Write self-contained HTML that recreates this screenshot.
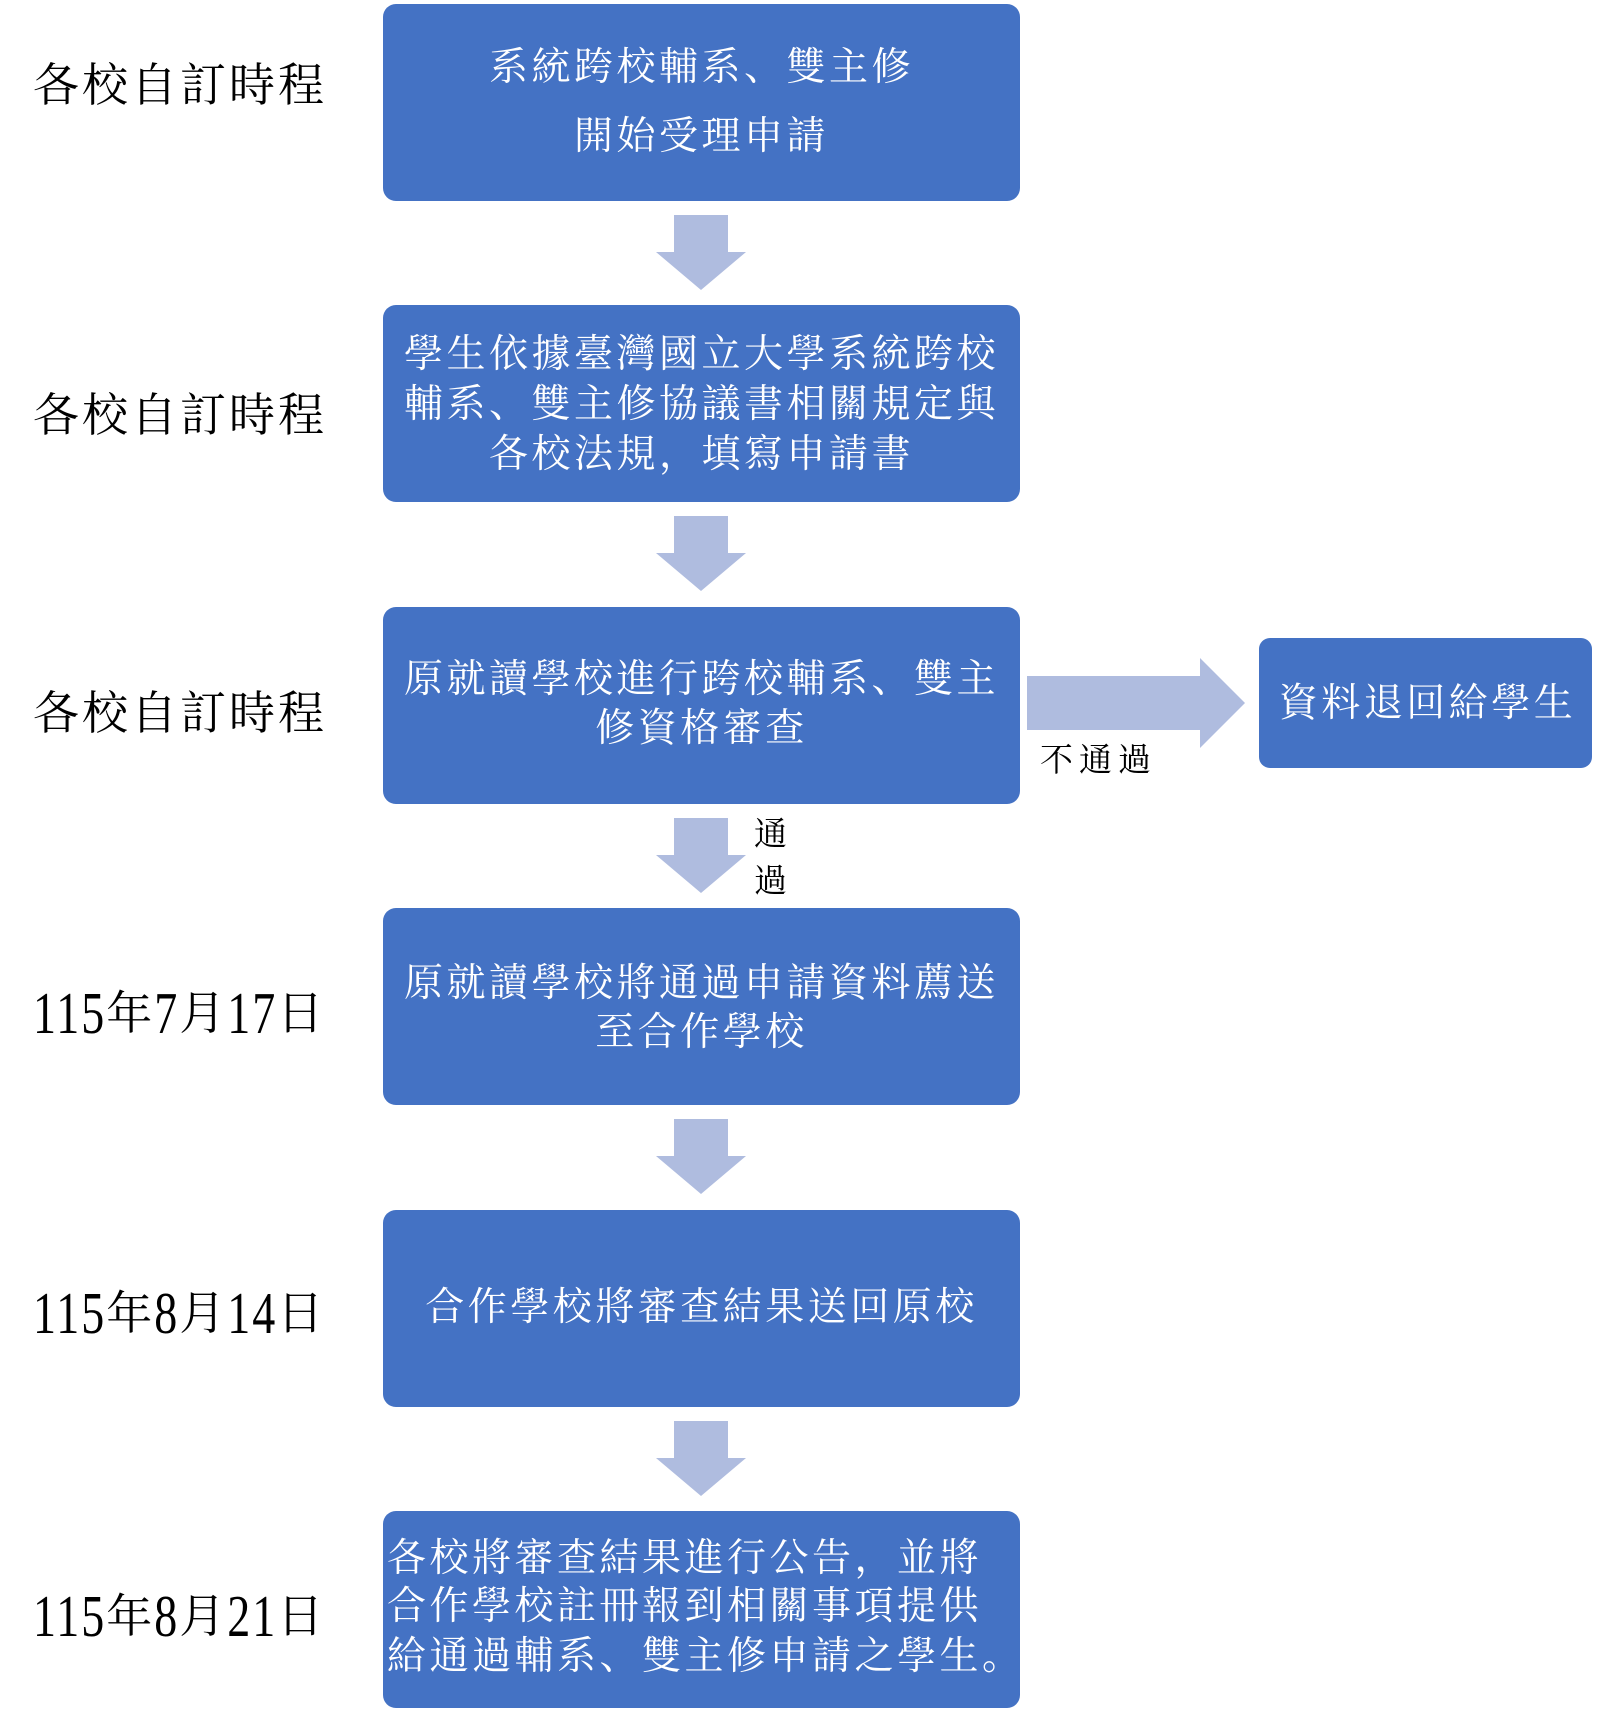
<!DOCTYPE html>
<html>
<head>
<meta charset="utf-8">
<style>
  html, body { margin:0; padding:0; background:#ffffff; }
  body { width:1600px; height:1713px; position:relative; overflow:hidden;
         font-family:"Liberation Serif","Noto Serif CJK SC","Noto Sans CJK TC",serif; }
  .box { position:absolute; left:383px; width:637px; height:197px; background:#4472C4; border-radius:13px; }
  .t { position:absolute; color:#ffffff; font-size:39px; line-height:50px; letter-spacing:3.5px;
       white-space:nowrap; text-align:center; }
  .c { left:383px; width:637px; }
  .lab { position:absolute; left:33px; color:#000; font-size:46px; line-height:50px; letter-spacing:3px; white-space:nowrap; }
  .dt { letter-spacing:2px; }
  .d { display:inline-block; font-family:"Liberation Serif",serif; transform:scaleY(1.28); letter-spacing:2px; }
  svg { position:absolute; left:0; top:0; }
</style>
</head>
<body>

<svg width="1600" height="1713" viewBox="0 0 1600 1713">
  <g fill="#AFBCDF">
    <polygon points="674,215 728,215 728,252 746,252 701,290 656,252 674,252"/>
    <polygon points="674,516 728,516 728,553 746,553 701,591 656,553 674,553"/>
    <polygon points="674,818 728,818 728,855 746,855 701,893 656,855 674,855"/>
    <polygon points="674,1119 728,1119 728,1156 746,1156 701,1194 656,1156 674,1156"/>
    <polygon points="674,1421 728,1421 728,1458 746,1458 701,1496 656,1458 674,1458"/>
    <polygon points="1027,676 1200,676 1200,658 1245,703 1200,748 1200,730 1027,730"/>
  </g>
</svg>

<!-- boxes -->
<div class="box" style="top:4px;"></div>
<div class="box" style="top:305px;"></div>
<div class="box" style="top:607px;"></div>
<div class="box" style="top:908px;"></div>
<div class="box" style="top:1210px;"></div>
<div class="box" style="top:1511px;"></div>
<div style="position:absolute;left:1259px;top:638px;width:333px;height:130px;background:#4472C4;border-radius:11px;"></div>

<!-- box 1 -->
<div class="t c" style="top:43px;">系統跨校輔系、雙主修</div>
<div class="t c" style="top:112px;">開始受理申請</div>

<!-- box 2 -->
<div class="t c" style="top:330px;">學生依據臺灣國立大學系統跨校</div>
<div class="t c" style="top:380px;">輔系、雙主修協議書相關規定與</div>
<div class="t c" style="top:430px;">各校法規，填寫申請書</div>

<!-- box 3 -->
<div class="t c" style="top:655px;">原就讀學校進行跨校輔系、雙主</div>
<div class="t c" style="top:704px;">修資格審查</div>

<!-- box 4 -->
<div class="t c" style="top:959px;">原就讀學校將通過申請資料薦送</div>
<div class="t c" style="top:1008px;">至合作學校</div>

<!-- box 5 -->
<div class="t c" style="top:1283px;">合作學校將審查結果送回原校</div>

<!-- box 6 -->
<div class="t" style="left:387px;top:1534px;text-align:left;">各校將審查結果進行公告，並將</div>
<div class="t" style="left:387px;top:1582px;text-align:left;">合作學校註冊報到相關事項提供</div>
<div class="t" style="left:387px;top:1632px;text-align:left;">給通過輔系、雙主修申請之學生。</div>

<!-- right box text -->
<div class="t" style="left:1261px;width:333px;top:679px;">資料退回給學生</div>

<!-- connector labels -->
<div style="position:absolute;left:1040px;top:741px;font-size:33px;line-height:40px;letter-spacing:6px;color:#000;white-space:nowrap;">不通過</div>
<div style="position:absolute;left:754px;top:815px;font-size:33px;line-height:40px;color:#000;">通</div>
<div style="position:absolute;left:754px;top:862px;font-size:33px;line-height:40px;color:#000;">過</div>

<!-- left labels -->
<div class="lab" style="top:61px;">各校自訂時程</div>
<div class="lab" style="top:391px;">各校自訂時程</div>
<div class="lab" style="top:689px;">各校自訂時程</div>
<div class="lab dt" style="top:989px;"><span class="d">115</span>年<span class="d">7</span>月<span class="d">17</span>日</div>
<div class="lab dt" style="top:1289px;"><span class="d">115</span>年<span class="d">8</span>月<span class="d">14</span>日</div>
<div class="lab dt" style="top:1592px;"><span class="d">115</span>年<span class="d">8</span>月<span class="d">21</span>日</div>

</body>
</html>
